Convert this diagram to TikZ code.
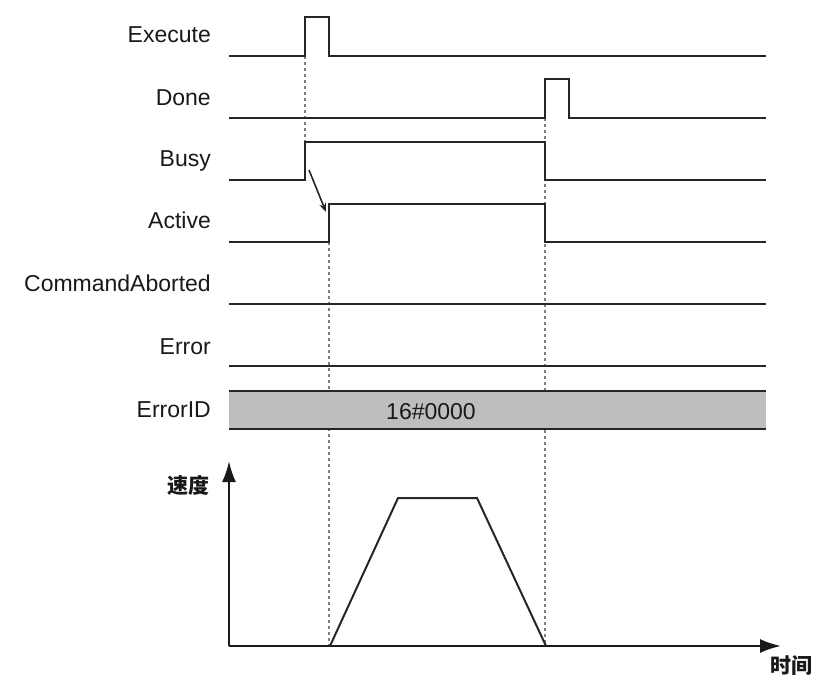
\documentclass[tikz,border=0pt]{standalone}
\usepackage{fontspec}
\setmainfont{Liberation Sans}
\newfontfamily\cjk{Noto Sans CJK SC}
\usetikzlibrary{arrows.meta}
\definecolor{bandgray}{HTML}{BDBEC0}
\begin{document}
\begin{tikzpicture}[x=1pt,y=-1pt,
  sig/.style={line width=2.3pt, draw=black!85, line join=miter},
  guide/.style={line width=1.8pt, draw=black!50, dash pattern=on 3pt off 3pt},
  axis/.style={line width=2.3pt, draw=black!90, -{Latex[length=21pt,width=14pt]}},
  lbl/.style={anchor=base east, inner sep=0pt, font=\fontsize{23}{23}\selectfont, text=black!90},
  cjklbl/.style={inner sep=0pt, font=\cjk\bfseries\fontsize{21}{21}\selectfont, text=black!90}]
\useasboundingbox (0,0) rectangle (816,679);

% labels
\node[lbl] (lExec) at (211,43) {Execute};
\node[lbl] (lDone) at (211,106) {Done};
\node[lbl] (lBusy) at (211,167) {Busy};
\node[lbl] (lAct) at (211,229) {Active};
\node[lbl] (lCA) at (211,291) {CommandAborted};
\node[lbl] (lErr) at (211,354) {Error};
\node[lbl] (lEID) at (211,417) {ErrorID};

% guide lines
\draw[guide] (305,56) -- (305,142);
\draw[guide] (329,242) -- (329,646);
\draw[guide] (545,118) -- (545,646);

% signals
\draw[sig] (229,56) -- (305,56) -- (305,17) -- (329,17) -- (329,56) -- (766,56);
\draw[sig] (229,118) -- (545,118) -- (545,79) -- (569,79) -- (569,118) -- (766,118);
\draw[sig] (229,180) -- (305,180) -- (305,142) -- (545,142) -- (545,180) -- (766,180);
\draw[sig] (229,242) -- (329,242) -- (329,204) -- (545,204) -- (545,242) -- (766,242);
\draw[sig] (229,304) -- (766,304);
\draw[sig] (229,366) -- (766,366);

% ErrorID band
\fill[bandgray] (229,391) rectangle (766,429);
\draw[sig] (229,391) -- (766,391);
\draw[sig] (229,429) -- (766,429);
\node[inner sep=0pt, anchor=base, font=\fontsize{23}{23}\selectfont, text=black!90] (eid) at (431,419) {16\#0000};

% causal arrow
\coordinate (a1) at (309,170);
\coordinate (a2) at (326,212);
\draw[line width=1.6pt, draw=black!85, -{Stealth[length=9pt,width=7pt]}] (a1) -- (a2);

% speed chart
\coordinate (o) at (229,646);
\coordinate (ytop) at (229,461);
\coordinate (xend) at (781,646);
\draw[axis] (o) -- (ytop);
\draw[axis] (o) -- (xend);
\draw[sig, line width=2pt] (330,646) -- (398,498) -- (477,498) -- (546,646);
\node[cjklbl] (vlbl) at (188,485) {速度};
\node[cjklbl] (tlbl) at (791,666) {时间};
\end{tikzpicture}
\end{document}
